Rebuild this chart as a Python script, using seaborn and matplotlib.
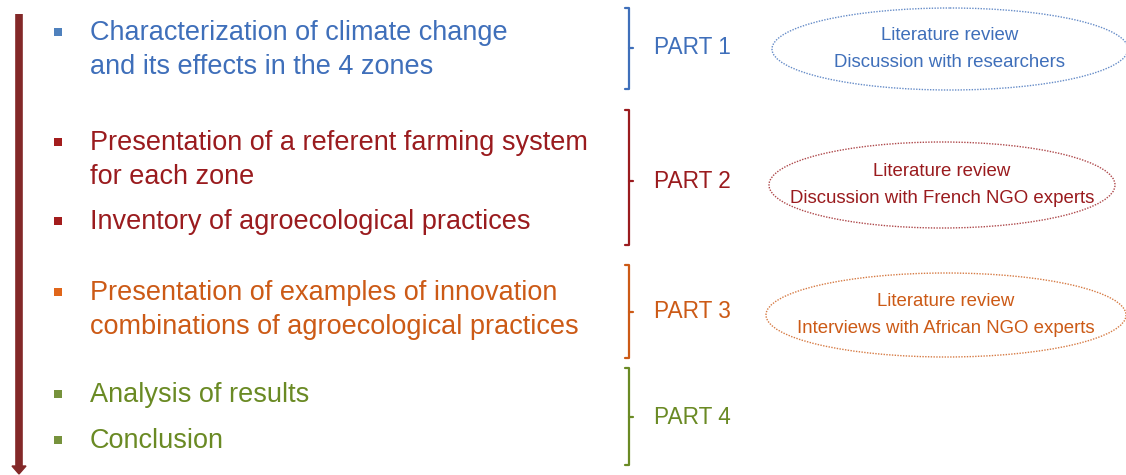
import matplotlib
matplotlib.use("Agg")
import matplotlib.pyplot as plt
import seaborn as sns
import pandas as pd
from matplotlib.patches import Ellipse

# contenu du schéma
part_labels = ["PART 1", "PART 2", "PART 3", "PART 4"]
part_colors = ["#3F6FBA", "#9A1B1E", "#CC5A16", "#6A8A24"]
bullet_colors = ["#4F81BD", "#A31D1D", "#E0661A", "#76923C"]

bullet_texts = [
    "Characterization of climate change\nand its effects in the 4 zones",
    "Presentation of a referent farming system\nfor each zone",
    "Inventory of agroecological practices",
    "Presentation of examples of innovation\ncombinations of agroecological practices",
    "Analysis of results",
    "Conclusion",
]
bullet_part = [0, 1, 1, 2, 3, 3]

method_texts = [
    "Literature review\nDiscussion with researchers",
    "Literature review\nDiscussion with French NGO experts",
    "Literature review\nInterviews with African NGO experts",
]

# mise en page (pixels)
bullet_y = [33, 143, 222, 293, 395, 441]
bracket_top = [8, 110, 265, 368]
bracket_bot = [89, 245, 358, 465]
bracket_mid = [48, 181, 312, 417]
ellipse_xy = [(950, 49), (942, 185), (946, 315)]
ellipse_wh = [(356, 82), (346, 86), (360, 84)]

sns.set_theme(style="white")
plt.rcParams["font.family"] = ["Liberation Sans", "DejaVu Sans"]

fig = plt.figure(figsize=(11.26, 4.75), dpi=100)
ax = fig.add_axes([0, 0, 1, 1])
ax.set_xlim(0, 1126)
ax.set_ylim(475, 0)
ax.axis("off")

# flèche verticale à gauche
ax.plot([19, 19], [14, 466], color="#832828", lw=5.5, solid_capstyle="butt")
ax.fill([12, 26, 19], [466, 466, 474], color="#832828")

# puces carrées
df = pd.DataFrame({
    "x": [58] * len(bullet_y),
    "y": [y - 1 for y in bullet_y],
    "part": [part_labels[p] for p in bullet_part],
})
sns.scatterplot(data=df, x="x", y="y", hue="part", palette=bullet_colors,
                marker="s", s=40, edgecolor="none", legend=False, ax=ax)

for txt, y, p in zip(bullet_texts, bullet_y, bullet_part):
    for k, line in enumerate(txt.split("\n")):
        ax.text(90, y + 34 * k, line, color=part_colors[p], fontsize=19.5,
                va="center", ha="left")

# accolades et libellés PART
for i, lab in enumerate(part_labels):
    c = part_colors[i]
    x0 = 629
    ax.plot([x0 - 4, x0, x0, x0 - 4], [bracket_top[i], bracket_top[i],
            bracket_bot[i], bracket_bot[i]], color=c, lw=1.6,
            solid_joinstyle="round")
    ax.plot([x0, x0 + 4], [bracket_mid[i], bracket_mid[i]], color=c, lw=1.6)
    ax.text(654, bracket_mid[i], lab, color=c, fontsize=16.3, va="center",
            ha="left")

# ellipses méthodes
for i, txt in enumerate(method_texts):
    c = part_colors[i]
    e = Ellipse(ellipse_xy[i], ellipse_wh[i][0], ellipse_wh[i][1], fill=False,
                edgecolor=c, lw=1.0, linestyle=(0, (1, 1)), alpha=0.8)
    ax.add_patch(e)
    cx, cy = ellipse_xy[i]
    for k, line in enumerate(txt.split("\n")):
        ax.text(cx, cy - 13.5 + 27 * k, line, color=c, fontsize=13.4,
                ha="center", va="center")

fig.savefig("out.png", dpi=100)
plt.close(fig)
